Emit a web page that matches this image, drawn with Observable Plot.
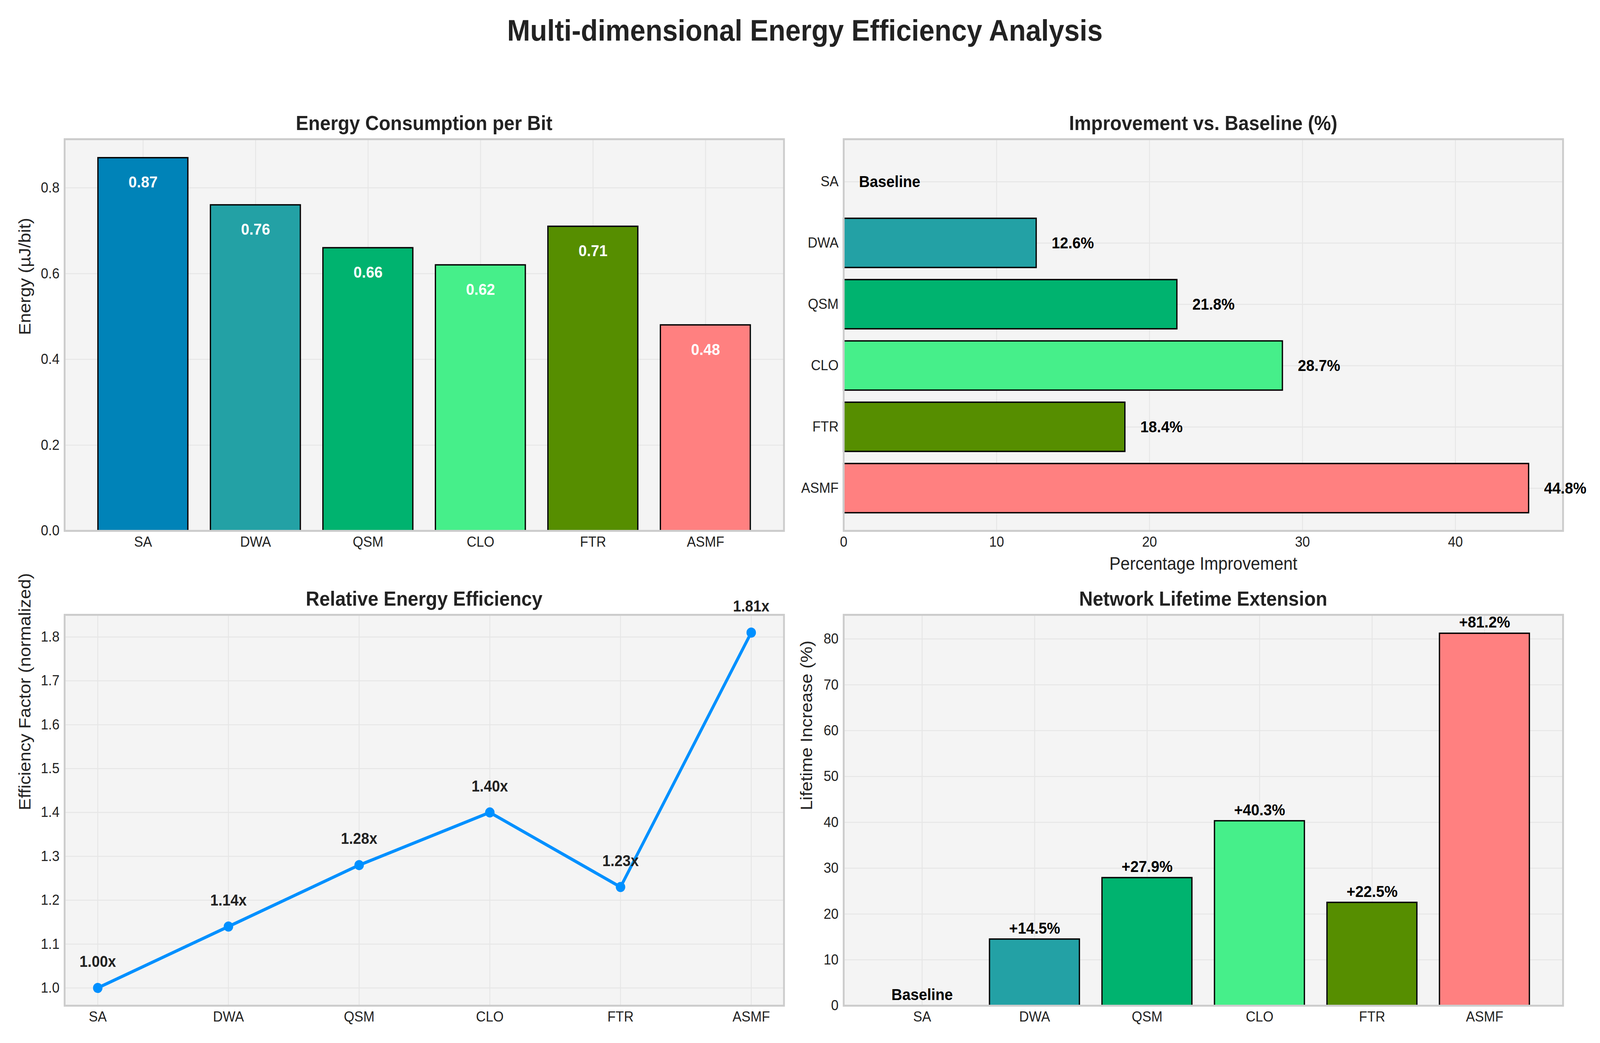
<!DOCTYPE html>
<html>
<head>
<meta charset="utf-8">
<script src="https://cdn.jsdelivr.net/npm/d3@7"></script>
<script src="https://cdn.jsdelivr.net/npm/@observablehq/plot@0.6"></script>
<style>
  html, body { margin: 0; padding: 0; background: #fff; overflow: hidden; }
  #root { position: absolute; left: 0; top: 0; width: 4395px; height: 2671px; overflow: hidden; background: #fff;
          transform-origin: 0 0;
          font-family: "Liberation Sans", Arial, Helvetica, sans-serif; color: #222; }
  .ttl { position: absolute; white-space: nowrap; font-weight: bold; line-height: 1; transform: translateX(-50%); color: #222; }
</style>
</head>
<body>
<div id="root"></div>
<script>
// ---------------- data ----------------
const methods = ["SA", "DWA", "QSM", "CLO", "FTR", "ASMF"];
const energy = [0.87, 0.76, 0.66, 0.62, 0.71, 0.48];
const improvement = [0, 12.6, 21.8, 28.7, 18.4, 44.8];
const efficiency = [1.00, 1.14, 1.28, 1.40, 1.23, 1.81];
const lifetime = [0, 14.5, 27.9, 40.3, 22.5, 81.2];
const colors = ["#0083B8", "#23A1A5", "#00B36F", "#46EF8A", "#568E00", "#FF8080"];

const energyTicks = [0, 0.2, 0.4, 0.6, 0.8];
const improvementTicks = [0, 10, 20, 30, 40];
const efficiencyTicks = [1.0, 1.1, 1.2, 1.3, 1.4, 1.5, 1.6, 1.7, 1.8];
const lifetimeTicks = [0, 10, 20, 30, 40, 50, 60, 70, 80];

const titles = {
  main: "Multi-dimensional Energy Efficiency Analysis",
  p1: "Energy Consumption per Bit",
  p2: "Improvement vs. Baseline (%)",
  p3: "Relative Energy Efficiency",
  p4: "Network Lifetime Extension"
};
const labels = {
  p1y: "Energy (µJ/bit)",
  p2x: "Percentage Improvement",
  p3y: "Efficiency Factor (normalized)",
  p4y: "Lifetime Increase (%)"
};

// ---------------- helpers ----------------
const W = 4395, H = 2671;
const root = document.getElementById("root");
function fit() {
  const vw = document.documentElement.clientWidth || window.innerWidth || W;
  const vh = document.documentElement.clientHeight || window.innerHeight || H;
  root.style.transform = `scale(${vw / W}, ${vh / H})`;
}
fit();
window.addEventListener("resize", fit);

const FONT = "'Liberation Sans', Arial, Helvetica, sans-serif";
const GRID = {stroke: "#E6E6E6", strokeOpacity: 1, strokeWidth: 2.5};
const TICK = {tickSize: 0, tickPadding: 14, fontSize: 37, label: null};
const VAL = {fontSize: 41, fontWeight: "bold"};
const baseStyle = {fontFamily: FONT, color: "#222", background: "transparent", overflow: "visible", maxWidth: "none"};

function place(el, left, top) {
  el.style.position = "absolute";
  el.style.left = left + "px";
  el.style.top = top + "px";
  root.appendChild(el);
}
function title(text, cx, baseline, size) {
  const d = document.createElement("div");
  d.className = "ttl";
  d.textContent = text;
  d.style.fontSize = size + "px";
  d.style.left = cx + "px";
  d.style.top = (baseline - 0.8465 * size) + "px";
  root.appendChild(d);
}

const rows = methods.map((m, i) => ({
  method: m, energy: energy[i], improvement: improvement[i],
  efficiency: efficiency[i], lifetime: lifetime[i], color: colors[i]
}));

// ---------------- titles ----------------
title(titles.main, 2211, 104, 76);
title(titles.p1, 1165, 333, 52);
title(titles.p2, 3305, 333, 52);
title(titles.p3, 1165, 1551, 52);
title(titles.p4, 3305, 1551, 52);

// ---------------- panel 1 ----------------
const p1 = Plot.plot({
  width: 2200, height: 1120,
  marginLeft: 177, marginRight: 47, marginTop: 16, marginBottom: 101,
  style: baseStyle,
  x: {type: "band", domain: methods, paddingInner: 0.2, paddingOuter: 0.29},
  y: {domain: [0, 0.9135]},
  color: {type: "identity"},
  marks: [
    Plot.frame({fill: "#F4F4F4"}),
    Plot.gridX({...GRID}),
    Plot.gridY(energyTicks, {...GRID}),
    Plot.barY(rows, {x: "method", y: "energy", fill: "color", stroke: "black", strokeWidth: 3.5}),
    Plot.text(rows, {x: "method", y: "energy", text: d => d.energy.toFixed(2), dy: 63,
      lineAnchor: "middle", fill: "white", ...VAL}),
    Plot.frame({stroke: "#CCCCCC", strokeWidth: 5}),
    Plot.axisX({...TICK}),
    Plot.axisY(energyTicks, {...TICK, tickFormat: d => d.toFixed(1)}),
    Plot.text([labels.p1y], {text: d => d, frameAnchor: "left", dx: -108, rotate: -90,
      lineAnchor: "middle", fontSize: 46, fill: "#222"})
  ]
});
place(p1, 0, 340);

// ---------------- panel 2 ----------------
const p2 = Plot.plot({
  width: 2195, height: 1160,
  marginLeft: 117, marginRight: 102, marginTop: 16, marginBottom: 141,
  style: baseStyle,
  x: {domain: [0, 47.04]},
  y: {type: "band", domain: methods, paddingInner: 0.2, paddingOuter: 0.29},
  color: {type: "identity"},
  marks: [
    Plot.frame({fill: "#F4F4F4"}),
    Plot.gridX(improvementTicks, {...GRID}),
    Plot.gridY({...GRID}),
    Plot.barX(rows, {y: "method", x: "improvement", fill: "color", stroke: "black", strokeWidth: 3.5}),
    Plot.frame({stroke: "#CCCCCC", strokeWidth: 5}),
    Plot.text(rows.filter(d => d.improvement > 0), {y: "method", x: d => d.improvement + 1,
      text: d => d.improvement.toFixed(1) + "%", textAnchor: "start", lineAnchor: "middle",
      fill: "black", ...VAL}),
    Plot.text(rows.filter(d => d.improvement === 0), {y: "method", x: d => d.improvement + 1,
      text: () => "Baseline", textAnchor: "start", lineAnchor: "middle", fill: "black", ...VAL}),
    Plot.axisX(improvementTicks, {...TICK}),
    Plot.axisY({...TICK}),
    Plot.text([labels.p2x], {text: d => d, frameAnchor: "bottom", dy: 99,
      lineAnchor: "bottom", fontSize: 46, fill: "#222"})
  ]
});
place(p2, 2200, 340);

// ---------------- panel 3 ----------------
const p3 = Plot.plot({
  width: 2200, height: 1160,
  marginLeft: 177, marginRight: 47, marginTop: 74, marginBottom: 85,
  style: baseStyle,
  x: {type: "point", domain: methods, padding: 0.25},
  y: {domain: [0.9595, 1.8505]},
  marks: [
    Plot.frame({fill: "#F4F4F4"}),
    Plot.gridX({...GRID}),
    Plot.gridY(efficiencyTicks, {...GRID}),
    Plot.lineY(rows, {x: "method", y: "efficiency", stroke: "#0090FF", strokeWidth: 8}),
    Plot.dot(rows, {x: "method", y: "efficiency", r: 13, fill: "#0090FF"}),
    Plot.text(rows, {x: "method", y: "efficiency", text: d => d.efficiency.toFixed(2) + "x",
      dy: -54, lineAnchor: "bottom", fill: "#222", fontSize: 40, fontWeight: "bold"}),
    Plot.frame({stroke: "#CCCCCC", strokeWidth: 5}),
    Plot.axisX({...TICK}),
    Plot.axisY(efficiencyTicks, {...TICK, tickFormat: d => d.toFixed(1)}),
    Plot.text([labels.p3y], {text: d => d, frameAnchor: "left", dx: -108, rotate: -90,
      lineAnchor: "middle", fontSize: 46, fill: "#222"})
  ]
});
place(p3, 0, 1500);

// ---------------- panel 4 ----------------
const p4 = Plot.plot({
  width: 2195, height: 1160,
  marginLeft: 117, marginRight: 102, marginTop: 74, marginBottom: 85,
  style: baseStyle,
  x: {type: "band", domain: methods, paddingInner: 0.2, paddingOuter: 0.29},
  y: {domain: [0, 85.26]},
  color: {type: "identity"},
  marks: [
    Plot.frame({fill: "#F4F4F4"}),
    Plot.gridX({...GRID}),
    Plot.gridY(lifetimeTicks, {...GRID}),
    Plot.barY(rows, {x: "method", y: "lifetime", fill: "color", stroke: "black", strokeWidth: 3.5}),
    Plot.frame({stroke: "#CCCCCC", strokeWidth: 5}),
    Plot.text(rows.filter(d => d.lifetime > 0), {x: "method", y: d => d.lifetime + 1,
      text: d => "+" + d.lifetime.toFixed(1) + "%", dy: -3, lineAnchor: "bottom", fill: "black", ...VAL}),
    Plot.text(rows.filter(d => d.lifetime === 0), {x: "method", y: d => d.lifetime + 1,
      text: () => "Baseline", dy: -3, lineAnchor: "bottom", fill: "black", ...VAL}),
    Plot.axisX({...TICK}),
    Plot.axisY(lifetimeTicks, {...TICK}),
    Plot.text([labels.p4y], {text: d => d, frameAnchor: "left", dx: -102, rotate: -90,
      lineAnchor: "middle", fontSize: 46, fill: "#222"})
  ]
});
place(p4, 2200, 1500);
</script>
</body>
</html>
